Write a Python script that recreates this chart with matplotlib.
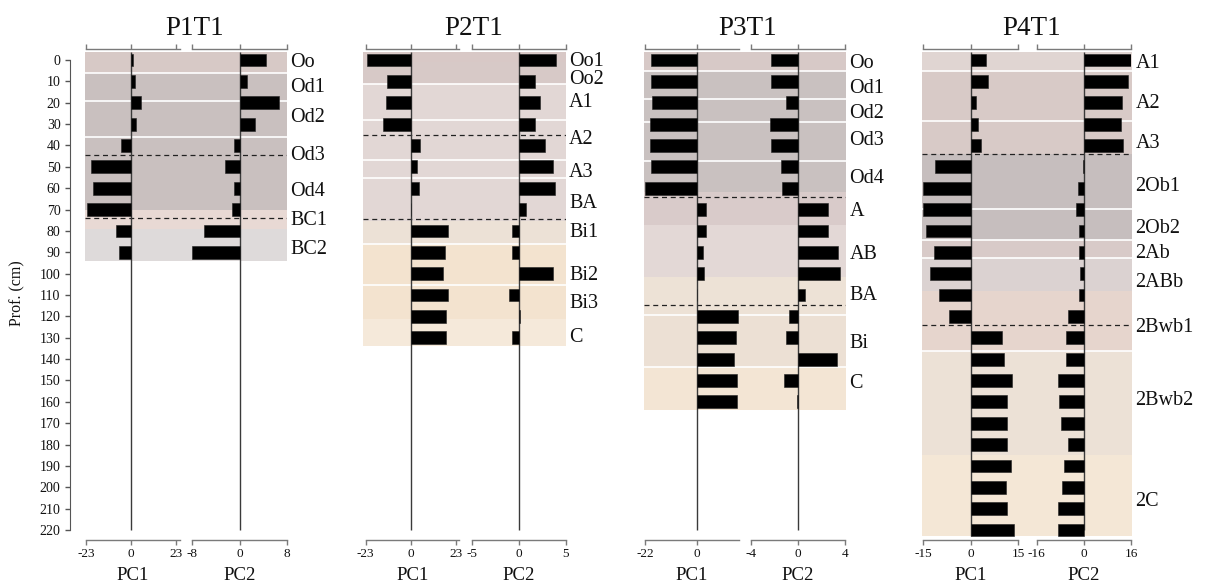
import matplotlib
matplotlib.use("Agg")
import matplotlib.pyplot as plt

plt.rcParams["font.family"] = ["Liberation Serif", "DejaVu Serif"]

# ------------------------------------------------------------------
# Data: PC scores per sample (one sample every 10 cm), horizons
# ------------------------------------------------------------------
depths = list(range(0, 230, 10))
depth_ticks = list(range(0, 230, 10))

# P1T1
p1_pc1 = [0.8, 1.8, 5.1, 2.6, -5.1, -20.4, -19.3, -22.5, -7.7, -6.3]
p1_pc2 = [4.5, 1.2, 6.7, 2.6, -1.0, -2.5, -1.0, -1.3, -6.0, -8.0]
p1_names = ["Oo", "Od1", "Od2", "Od3", "Od4", "BC1", "BC2"]
p1_edges = [-3.75, 6, 19.3, 36, 70, 79, 94]
p1_breaks = [44.6, 74.0]
p1_pc1_ticks = [-23, 0, 23]
p1_pc2_ticks = [-8, 0, 8]

# P2T1
p2_pc1 = [-22.5, -12.0, -12.8, -14.0, 4.8, 3.4, 4.1, 0.3, 19.2, 17.7, 16.7, 18.9, 18.0, 18.0]
p2_pc2 = [4.0, 1.7, 2.3, 1.7, 2.75, 3.6, 3.9, 0.8, -0.75, -0.8, 3.6, -1.1, 0.1, -0.8]
p2_names = ["Oo1", "Oo2", "A1", "A2", "A3", "BA", "Bi1", "Bi2", "Bi3", "C"]
p2_edges = [-3.75, 0.9, 11.2, 28.1, 47.0, 55.3, 75.2, 86.1, 105.3, 121.1, 134.0]
p2_breaks = [35.0, 74.3]
p2_pc1_ticks = [-23, 0, 23]
p2_pc2_ticks = [-5, 0, 5]

# P3T1
p3_pc1 = [-19.6, -19.6, -19.1, -19.9, -19.9, -19.4, -21.9, 3.8, 3.8, 2.55, 3.1, 0.0,
          17.6, 16.7, 16.0, 17.3, 17.0]
p3_pc2 = [-2.26, -2.26, -1.05, -2.35, -2.26, -1.47, -1.39, 2.59, 2.59, 3.4, 3.6, 0.6,
          -0.79, -0.99, 3.3, -1.22, -0.05]
p3_names = ["Oo", "Od1", "Od2", "Od3", "Od4", "A", "AB", "BA", "Bi", "C"]
p3_edges = [-3.75, 5.0, 18.1, 29.0, 47.4, 62.0, 77.1, 101.7, 119.2, 143.8, 163.7]
p3_breaks = [64.1, 114.5]
p3_pc1_ticks = [-22, 0]
p3_pc2_ticks = [-4, 0, 4]

# P4T1
p4_pc1 = [4.9, 5.4, 1.6, 2.2, 3.25, -11.3, -15.0, -15.0, -14.1, -11.6, -12.8, -10.2,
          -6.8, 10.0, 10.5, 12.9, 11.5, 11.4, 11.4, 12.8, 11.0, 11.4, 13.7]
p4_pc2 = [15.9, 15.1, 12.8, 12.5, 13.4, -0.2, -2.15, -2.5, -1.6, -1.6, -1.25, -1.6,
          -5.3, -5.9, -5.9, -8.7, -8.6, -7.7, -5.3, -6.8, -7.3, -8.7, -8.9]
p4_names = ["A1", "A2", "A3", "2Ob1", "2Ob2", "2Ab", "2ABb", "2Bwb1", "2Bwb2", "2C"]
p4_edges = [-3.75, 5.3, 28.7, 43.9, 69.8, 84.1, 92.7, 108.1, 136.1, 185.0, 223.0]
p4_breaks = [43.9, 124.2]
p4_pc1_ticks = [-15, 0, 15]
p4_pc2_ticks = [-16, 0, 16]

# ------------------------------------------------------------------
# Styling / layout
# ------------------------------------------------------------------
W, H = 1205, 584
fig = plt.figure(figsize=(W / 100, H / 100), dpi=100)

PX_PER_CM = 2.1364
Y0 = 60.0                       # pixel row of depth 0
AX_TOP, AX_BOT = 49.3, 540.0     # pixel rows of the top/bottom spines


def depth_of(ypx):
    return (ypx - Y0) / PX_PER_CM


YLIM = (depth_of(AX_BOT), depth_of(AX_TOP))


def rect(x0, x1, y0, y1):
    return [x0 / W, 1 - y1 / H, (x1 - x0) / W, (y1 - y0) / H]


SPINE = "#7a7a7a"
ZERO = "#3a3a3a"

profiles = [
    dict(title="P1T1", pc1=p1_pc1, pc2=p1_pc2, names=p1_names, edges=p1_edges,
         breaks=p1_breaks, t1=p1_pc1_ticks, t2=p1_pc2_ticks,
         colors=["#d7c9c6", "#c9c0bf", "#c9c0bf", "#c9c0bf", "#e8d9d4", "#dedada"],
         white=[6, 19.3, 36],
         label_y=[60, 85, 115, 153, 189, 218, 247],
         ax1=(86, 180, -23, 25.0), ax2=(192, 287, -8, 8), bg=(85, 287), title_x=195),
    dict(title="P2T1", pc1=p2_pc1, pc2=p2_pc2, names=p2_names, edges=p2_edges,
         breaks=p2_breaks, t1=p2_pc1_ticks, t2=p2_pc2_ticks,
         colors=["#d8c8c6", "#d7c9c7", "#e2d7d5", "#e2d7d5", "#e2d7d5", "#e2d7d5",
                 "#ece1d6", "#f3e3cf", "#f3e3cf", "#f5e9da"],
         white=[11.2, 28.1, 47.0, 55.3, 86.1, 105.3],
         label_y=[59.5, 77.5, 100, 137.5, 170, 201, 230, 273, 301.7, 335],
         ax1=(365.7, 459, -23, 24.7), ax2=(472.3, 565.7, -5, 5), bg=(363, 565.7), title_x=474),
    dict(title="P3T1", pc1=p3_pc1, pc2=p3_pc2, names=p3_names, edges=p3_edges,
         breaks=p3_breaks, t1=p3_pc1_ticks, t2=p3_pc2_ticks,
         colors=["#d7c9c7", "#c9c1c0", "#c9c1c0", "#c9c1c0", "#c9c1c0", "#d9cbca",
                 "#e3d8d6", "#ede2d6", "#ece0d4", "#f3e5d4"],
         white=[5.0, 18.1, 29.0, 47.4, 119.2, 143.8],
         label_y=[61.7, 86.7, 111.7, 138.3, 176.7, 209, 252.5, 293.3, 341.7, 381.7],
         ax1=(645, 739, -22, 18.0), ax2=(751, 845, -4, 4), bg=(644, 846), title_x=748),
    dict(title="P4T1", pc1=p4_pc1, pc2=p4_pc2, names=p4_names, edges=p4_edges,
         breaks=p4_breaks, t1=p4_pc1_ticks, t2=p4_pc2_ticks,
         colors=["#e0d5d2", "#d8cac7", "#d8cac7", "#c6bebe", "#c6bebe", "#d8cac8",
                 "#dbd2d1", "#e6d5cd", "#ece1d6", "#f4e7d6"],
         white=[5.3, 28.7, 69.8, 84.1, 92.7, 136.1],
         label_y=[61.7, 101.7, 140.8, 184, 226.7, 251.7, 280, 325, 398.3, 499],
         ax1=(923.3, 1018.3, -15, 15), ax2=(1036.7, 1131, -16, 16), bg=(922, 1132), title_x=1032),
]

LABEL_SIZE = 14.5
CAP_HALF = 0.335 * LABEL_SIZE

for i, p in enumerate(profiles):
    # horizon bands behind the bars
    bg = fig.add_axes(rect(p["bg"][0], p["bg"][1], AX_TOP, AX_BOT), zorder=0)
    bg.set_xlim(0, 1)
    bg.set_ylim(*YLIM)
    bg.axis("off")
    edges = p["edges"]
    for top, bot, col in zip(edges[:-1], edges[1:], p["colors"]):
        bg.axhspan(top, bot, color=col, lw=0)
    for d in p["white"]:
        bg.axhline(d, color="white", lw=1.2)
    for d in p["breaks"]:
        bg.axhline(d, color="#222222", lw=0.9, ls=(0, (4, 3)))
    for name, ypx in zip(p["names"], p["label_y"]):
        bg.annotate(name, xy=(1, depth_of(ypx)), xycoords=("axes fraction", "data"),
                    xytext=(2.5, -CAP_HALF), textcoords="offset points",
                    ha="left", va="baseline", fontsize=LABEL_SIZE,
                    color="#111111", annotation_clip=False)

    fig.text(p["title_x"] / W, 1 - 35 / H, p["title"], ha="center", va="baseline",
             fontsize=19.5, color="#111111")

    n = len(p["pc1"])
    bottom_line = max(220, edges[-1])
    for key, geom, ticks, label in (("pc1", p["ax1"], p["t1"], "PC1"),
                                    ("pc2", p["ax2"], p["t2"], "PC2")):
        x0, x1, lo, hi = geom
        ax = fig.add_axes(rect(x0, x1, AX_TOP, AX_BOT), zorder=1)
        ax.patch.set_alpha(0)
        ax.set_xlim(lo, hi)
        ax.set_ylim(*YLIM)
        ax.vlines(0, edges[0], bottom_line if key == "pc1" else 220,
                  color=ZERO, lw=1.0, zorder=2)
        ax.barh(depths[:n], p[key], height=6.0, color="black",
                edgecolor="#222222", linewidth=0.4, zorder=3)
        ax.set_xticks(ticks)
        ax.set_xticklabels([str(t) for t in ticks])
        ax.tick_params(axis="x", bottom=True, top=True, labelbottom=True,
                       labeltop=False, direction="out", length=3.6, width=1,
                       color=SPINE, labelsize=9.5, pad=2.5, labelcolor="#111111")
        for s in ("top", "bottom"):
            ax.spines[s].set_color(SPINE)
            ax.spines[s].set_linewidth(1)
        ax.spines["right"].set_visible(False)
        if i == 0 and key == "pc1":
            ax.spines["left"].set_position(("outward", 16 * 0.72))
            ax.spines["left"].set_bounds(0, 220)
            ax.spines["left"].set_color("#555555")
            ax.set_yticks(depth_ticks)
            ax.set_yticklabels([str(t) for t in depth_ticks])
            ax.tick_params(axis="y", left=True, direction="out", length=3.6,
                           width=1, color="#555555", labelsize=10, pad=3.2,
                           labelcolor="#111111")
        else:
            ax.spines["left"].set_visible(False)
            ax.set_yticks([])
        fig.text((x0 + x1) / 2 / W, 1 - 580 / H, label, ha="center",
                 va="baseline", fontsize=13.5, color="#111111")

fig.text(17 / W, 1 - 293 / H, "Prof. (cm)", rotation=90, ha="center", va="center",
         fontsize=11.5, color="#111111")

fig.savefig("out.png", dpi=100)
